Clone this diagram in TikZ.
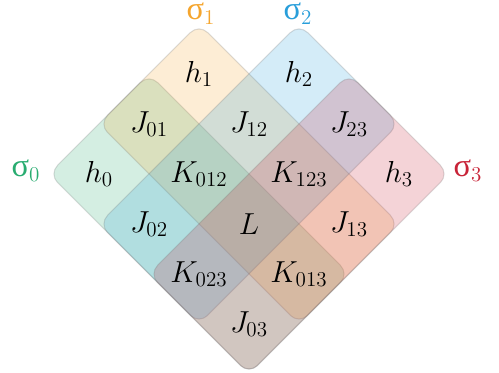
\documentclass[tikz,border=0pt]{standalone}
\usepackage{amsmath}
\usepackage{fontspec}
\newfontfamily\greekfont{Liberation Serif}
\usetikzlibrary{positioning}

\definecolor{sgreen}{RGB}{40,172,112}
\definecolor{sorange}{RGB}{245,165,45}
\definecolor{sblue}{RGB}{40,158,218}
\definecolor{sred}{RGB}{200,35,55}

\newcommand{\sig}[1]{{\greekfont\fontsize{18.5}{19}\selectfont σ}$_{#1}$}

\begin{document}
\begin{tikzpicture}[
    region/.style={draw=black!60, draw opacity=0.22, fill opacity=0.2, rounded corners=6.8pt, line width=0.6pt},
    cell/.style={font=\fontsize{17}{20}\selectfont},
    setlabel/.style={anchor=base, inner sep=0pt, font=\fontsize{17}{18}\selectfont}
]
    \useasboundingbox (0,0) rectangle (9.98,7.46);
    \begin{scope}[shift={(0.98,3.98)}, rotate=-45, scale=1.41421]
        % the four sets
        \draw [region, fill=sgreen] (0,0) -- (4,0) -- (4,2) -- (0,2) -- cycle;
        \draw [region, fill=sorange] (0,1) -- (4,1) -- (4,3) -- (0,3) -- cycle;
        \draw [region, fill=sblue] (1,0) -- (3,0) -- (3,4) -- (1,4) -- cycle;
        \draw [region, fill=sred] (2,0) -- (4,0) -- (4,4) -- (2,4) -- cycle;
        % cells
        \node (h0) [cell] at (0.5,0.5) {$h_0$};
        \node (h1) [cell] at (0.5,2.5) {$h_1$};
        \node (h2) [cell] at (1.5,3.5) {$h_2$};
        \node (h3) [cell] at (3.5,3.5) {$h_3$};
        \node (J01) [cell] at (0.5,1.5) {$J_{01}$};
        \node (J02) [cell] at (1.5,0.5) {$J_{02}$};
        \node (J03) [cell] at (3.5,0.5) {$J_{03}$};
        \node (J12) [cell] at (1.5,2.5) {$J_{12}$};
        \node (J13) [cell] at (3.5,2.5) {$J_{13}$};
        \node (J23) [cell] at (2.5,3.5) {$J_{23}$};
        \node (K012) [cell] at (1.5,1.5) {$K_{012}$};
        \node (K023) [cell] at (2.5,0.5) {$K_{023}$};
        \node (K013) [cell] at (3.5,1.5) {$K_{013}$};
        \node (K123) [cell] at (2.5,2.5) {$K_{123}$};
        \node (L) [cell] at (2.5,1.5) {$L$};
    \end{scope}
    % set labels
    \node (s0) [setlabel, text=sgreen] at (0.52,3.92) {\sig{0}};
    \node (s1) [setlabel, text=sorange] at (4.02,7.06) {\sig{1}};
    \node (s2) [setlabel, text=sblue] at (5.96,7.06) {\sig{2}};
    \node (s3) [setlabel, text=sred] at (9.36,3.92) {\sig{3}};
\end{tikzpicture}
\end{document}
